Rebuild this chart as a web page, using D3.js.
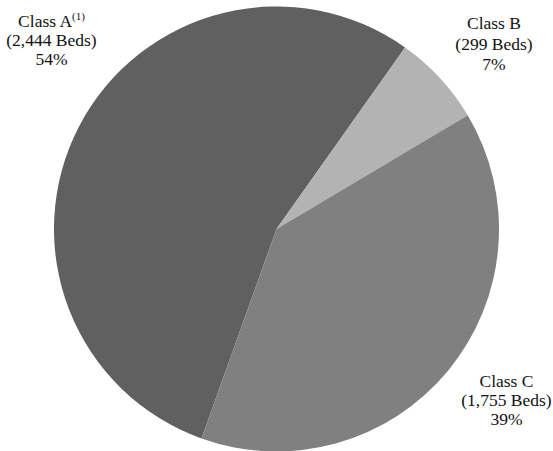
<!DOCTYPE html>
<html><head><meta charset="utf-8">
<script src="https://cdn.jsdelivr.net/npm/d3@7"></script>
<style>
html,body{margin:0;padding:0;background:#fff;}
</style></head>
<body>
<script>
const categories = ["Class A", "Class B", "Class C"];
const beds = [2444, 299, 1755];
const percentLabels = ["54%", "7%", "39%"];
const bedLabels = ["(2,444 Beds)", "(299 Beds)", "(1,755 Beds)"];
const colors = ["#606060", "#b3b3b3", "#808080"];

const W = 553, H = 451;
const cx = 276.5, cy = 229, R = 222.5;
const startDeg = -160.3;

const svg = d3.select("body").append("svg").attr("width", W).attr("height", H)
  .style("font-family", "'Liberation Serif', 'Times New Roman', Times, serif");
const data = categories.map((c, i) => ({name: c, value: beds[i], color: colors[i], beds: bedLabels[i], pct: percentLabels[i]}));

const pie = d3.pie().value(d => d.value).sort(null)
  .startAngle(startDeg * Math.PI / 180)
  .endAngle(startDeg * Math.PI / 180 + 2 * Math.PI);
const arc = d3.arc().innerRadius(0).outerRadius(R);

svg.append("g").attr("transform", `translate(${cx},${cy})`)
  .selectAll("path").data(pie(data)).join("path")
  .attr("d", arc).attr("fill", d => d.data.color);

const labelPos = [
  {x: 51.5, y: [26.7, 46, 65.3]},
  {x: 494, y: [29.3, 49.5, 69.5]},
  {x: 506.5, y: [386.7, 406, 425.3]}
];
const fs = 17.5;
const ff = "Liberation Serif";
data.forEach((d, i) => {
  const p = labelPos[i];
  const t1 = svg.append("text").attr("x", p.x).attr("y", p.y[0]).attr("text-anchor", "middle")
    .attr("font-size", fs).attr("font-family", ff).attr("fill", "#111");
  t1.append("tspan").text(d.name);
  if (i === 0) {
    t1.append("tspan").attr("font-size", 11).attr("dy", -7).text("(1)");
  }
  svg.append("text").attr("x", p.x).attr("y", p.y[1]).attr("text-anchor", "middle")
    .attr("font-size", fs).attr("font-family", ff).attr("fill", "#111").text(d.beds);
  svg.append("text").attr("x", p.x).attr("y", p.y[2]).attr("text-anchor", "middle")
    .attr("font-size", fs).attr("font-family", ff).attr("fill", "#111").text(d.pct);
});
</script>
</body></html>
